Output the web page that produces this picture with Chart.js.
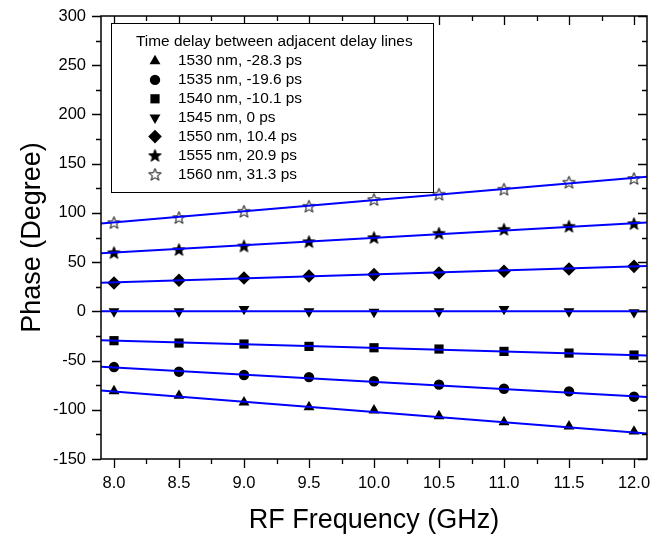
<!DOCTYPE html>
<html>
<head>
<meta charset="utf-8">
<script src="https://cdn.jsdelivr.net/npm/chart.js@4"></script>
<style>
    html, body { margin: 0; padding: 0; background: #fff; }
    #wrap { width: 654px; height: 537px; }
</style>
</head>
<body>
<div id="wrap"><canvas id="chart" width="654" height="537"></canvas></div>
<script>
// --- DATOS ---
const freqs = [8.0, 8.5, 9.0, 9.5, 10.0, 10.5, 11.0, 11.5, 12.0];
const legendTitle = 'Time delay between adjacent delay lines';
const seriesLabels = [
    '1530 nm, -28.3 ps', '1535 nm, -19.6 ps', '1540 nm, -10.1 ps', '1545 nm, 0 ps',
    '1550 nm, 10.4 ps', '1555 nm, 20.9 ps', '1560 nm, 31.3 ps'
];
const phase1530 = [-81, -85.7, -92.5, -97.3, -100.6, -106.4, -112.5, -116.9, -122];
const phase1535 = [-56.6, -61.3, -64.7, -66.8, -71, -74.5, -78.6, -81.3, -86.7];
const phase1540 = [-29.8, -32.2, -33.2, -35.6, -37, -38.3, -40.7, -42.4, -44.4];
const phase1545 = [0, 0, 2.3, 0, -0.5, 0, 2.3, 0, -1];
const phase1550 = [28.8, 31.5, 33.8, 35.9, 37.3, 38.9, 40.7, 43, 45.7];
const phase1555 = [59.6, 62.7, 66.4, 70.8, 74.9, 79.3, 83.3, 86.4, 89.1];
const phase1560 = [90.1, 95.2, 101.6, 106.7, 113.5, 118.9, 124, 131.1, 134.9];

// rectas de ajuste (extremos del eje)
const fitX = [7.9, 12.1];
const fit1530 = [-80.3, -124];
const fit1535 = [-56.3, -87];
const fit1540 = [-29.4, -44.8];
const fit1545 = [0, 0];
const fit1550 = [29, 46];
const fit1555 = [58.9, 90.3];
const fit1560 = [89.1, 136.7];

const xMajorTicks = [8.0, 8.5, 9.0, 9.5, 10.0, 10.5, 11.0, 11.5, 12.0];
const xMinorTicks = [8.25, 8.75, 9.25, 9.75, 10.25, 10.75, 11.25, 11.75];
const yMajorTicks = [-150, -100, -50, 0, 50, 100, 150, 200, 250, 300];
const yMinorTicks = [-125, -75, -25, 25, 75, 125, 175, 225, 275];

const allPhases = [phase1530, phase1535, phase1540, phase1545, phase1550, phase1555, phase1560];
const allFits = [fit1530, fit1535, fit1540, fit1545, fit1550, fit1555, fit1560];

const FONT = '"Liberation Sans", Arial, sans-serif';

// --- MARCADORES ---
function makeStar(R, filled) {
    const c = document.createElement('canvas');
    const s = Math.ceil(R * 2 + 2);
    c.width = s; c.height = s;
    const ctx = c.getContext('2d');
    const cx = s / 2, cy = s / 2 + 0.5, r = R * 0.42;
    ctx.beginPath();
    for (let i = 0; i < 10; i++) {
        const a = -Math.PI / 2 + i * Math.PI / 5;
        const rr = i % 2 === 0 ? R : r;
        ctx.lineTo(cx + Math.cos(a) * rr, cy + Math.sin(a) * rr);
    }
    ctx.closePath();
    ctx.fillStyle = filled ? '#000' : '#fff';
    ctx.fill();
    ctx.lineWidth = 1;
    ctx.strokeStyle = '#000';
    ctx.stroke();
    return c;
}

const markers = [
    { pointStyle: 'triangle', radius: 6.3, rotation: 0 },
    { pointStyle: 'circle', radius: 5.2, rotation: 0 },
    { pointStyle: 'rect', radius: 6.5, rotation: 0 },
    { pointStyle: 'triangle', radius: 6.3, rotation: 180 },
    { pointStyle: 'rectRot', radius: 6.8, rotation: 0 },
    { pointStyle: makeStar(6.5, true), radius: 6, rotation: 0 },
    { pointStyle: makeStar(6.5, false), radius: 6, rotation: 0 }
];

const datasets = [];
allFits.forEach((f) => {
    datasets.push({
        type: 'line',
        data: fitX.map((x, k) => ({ x: x, y: f[k] })),
        borderColor: '#0000ff',
        borderWidth: 2,
        pointRadius: 0,
        order: 1
    });
});
allPhases.forEach((p, i) => {
    datasets.push({
        type: 'scatter',
        label: seriesLabels[i],
        data: freqs.map((x, k) => ({ x: x, y: p[k] })),
        pointStyle: markers[i].pointStyle,
        pointRadius: markers[i].radius,
        pointRotation: markers[i].rotation,
        backgroundColor: '#000',
        borderColor: '#000',
        borderWidth: 0,
        order: 2
    });
});

// --- MARCO, TICKS Y LEYENDA ---
const framePlugin = {
    id: 'frame',
    afterDraw(chart) {
        const { ctx, chartArea: a, scales } = chart;
        const xs = scales.x, ys = scales.y;
        ctx.save();
        ctx.strokeStyle = '#000';
        ctx.lineWidth = 1.3;
        ctx.beginPath();
        const tick = (x1, y1, x2, y2) => { ctx.moveTo(x1, y1); ctx.lineTo(x2, y2); };
        xMajorTicks.forEach(v => {
            const px = Math.round(xs.getPixelForValue(v)) + 0.5;
            tick(px, a.bottom, px, a.bottom + 9);
            tick(px, a.top, px, a.top + 9);
        });
        xMinorTicks.forEach(v => {
            const px = Math.round(xs.getPixelForValue(v)) + 0.5;
            tick(px, a.bottom, px, a.bottom + 5);
            tick(px, a.top, px, a.top + 5);
        });
        yMajorTicks.forEach(v => {
            const py = Math.round(ys.getPixelForValue(v)) + 0.5;
            tick(a.left, py, a.left - 9, py);
            tick(a.right, py, a.right - 9, py);
        });
        yMinorTicks.forEach(v => {
            const py = Math.round(ys.getPixelForValue(v)) + 0.5;
            tick(a.left, py, a.left - 5, py);
            tick(a.right, py, a.right - 5, py);
        });
        ctx.stroke();
        ctx.lineWidth = 1.5;
        ctx.strokeRect(a.left, a.top, a.right - a.left, a.bottom - a.top);

        // leyenda
        const lx = a.left + 10, ly = a.top + 7, lw = 322, lh = 169;
        ctx.fillStyle = '#fff';
        ctx.fillRect(lx, ly, lw, lh);
        ctx.lineWidth = 1;
        ctx.strokeRect(lx + 0.5, ly + 0.5, lw, lh);
        ctx.fillStyle = '#000';
        ctx.font = '15.4px ' + FONT;
        ctx.textBaseline = 'middle';
        ctx.textAlign = 'left';
        ctx.fillText(legendTitle, lx + 25, ly + 19);
        seriesLabels.forEach((lab, i) => {
            const yy = ly + 38 + i * 18.9;
            ctx.fillStyle = '#000';
            ctx.strokeStyle = '#000';
            Chart.helpers.drawPoint(ctx, {
                pointStyle: markers[i].pointStyle,
                radius: markers[i].radius,
                rotation: markers[i].rotation,
                borderWidth: 0
            }, lx + 44, yy);
            ctx.fillStyle = '#000';
            ctx.fillText(lab, lx + 67, yy);
        });
        ctx.restore();
    }
};

const ctx = document.getElementById('chart').getContext('2d');
new Chart(ctx, {
    data: { datasets: datasets },
    plugins: [framePlugin],
    options: {
        responsive: false,
        animation: false,
        layout: { padding: { top: 16, right: 7, left: 0, bottom: 0 } },
        plugins: { legend: { display: false }, tooltip: { enabled: false } },
        scales: {
            x: {
                type: 'linear',
                min: 7.9,
                max: 12.1,
                grid: { display: false, drawTicks: false },
                border: { display: false },
                afterBuildTicks: (s) => { s.ticks = xMajorTicks.map(v => ({ value: v })); },
                afterFit: (s) => { s.height = 78; s.paddingLeft = 0; s.paddingRight = 0; },
                ticks: {
                    padding: 15,
                    color: '#000',
                    font: { family: FONT, size: 16.5 },
                    callback: (v) => v.toFixed(1)
                },
                title: {
                    display: true,
                    text: 'RF Frequency (GHz)',
                    color: '#000',
                    font: { family: FONT, size: 27 },
                    padding: { top: 0, bottom: 0 }
                }
            },
            y: {
                type: 'linear',
                min: -150,
                max: 300,
                grid: { display: false, drawTicks: false },
                border: { display: false },
                afterBuildTicks: (s) => { s.ticks = yMajorTicks.map(v => ({ value: v })); },
                afterFit: (s) => { s.width = 101; s.paddingTop = 0; s.paddingBottom = 0; },
                ticks: {
                    padding: 15,
                    color: '#000',
                    font: { family: FONT, size: 16.5 },
                    callback: (v) => String(v)
                },
                title: {
                    display: true,
                    text: 'Phase (Degree)',
                    color: '#000',
                    font: { family: FONT, size: 27 },
                    padding: { top: 16, bottom: 0 }
                }
            }
        }
    }
});
</script>
</body>
</html>
